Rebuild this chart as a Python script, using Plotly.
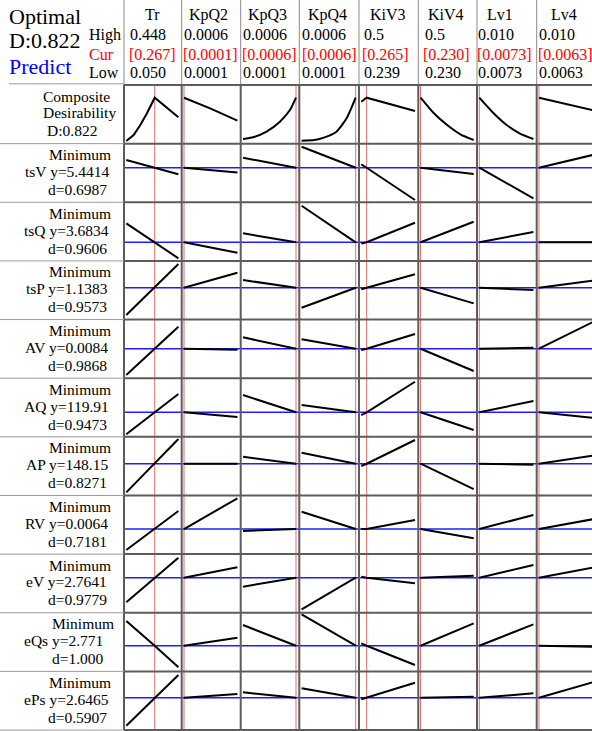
import plotly.graph_objects as go

W, H = 592, 731
FONT = "Liberation Serif"

# ---------------- data ----------------
factors = ["Tr", "KpQ2", "KpQ3", "KpQ4", "KiV3", "KiV4", "Lv1", "Lv4"]
high = [0.448, 0.0006, 0.0006, 0.0006, 0.5, 0.5, 0.010, 0.010]
cur = [0.267, 0.0001, 0.0006, 0.0006, 0.265, 0.230, 0.0073, 0.0063]
low = [0.050, 0.0001, 0.0001, 0.0001, 0.239, 0.230, 0.0073, 0.0063]
high_text = ["0.448", "0.0006", "0.0006", "0.0006", "0.5", "0.5", "0.010", "0.010"]
cur_text = ["[0.267]", "[0.0001]", "[0.0006]", "[0.0006]", "[0.265]", "[0.230]", "[0.0073]", "[0.0063]"]
low_text = ["0.050", "0.0001", "0.0001", "0.0001", "0.239", "0.230", "0.0073", "0.0063"]

composite_D = "0.822"
composite_range = [-0.05, 1.063]
composite_x = [
    [0.05, 0.106, 0.157, 0.208, 0.267, 0.448],
    [0.0001, 0.00035, 0.0006],
    [0.0001, 0.000195, 0.000322, 0.000448, 0.000543, 0.0006],
    [0.0001, 0.000219, 0.000312, 0.000422, 0.000516, 0.0006],
    [0.239, 0.265, 0.5],
    [0.23, 0.2975, 0.365, 0.4325, 0.5],
    [0.0073, 0.00794, 0.00862, 0.00931, 0.010],
    [0.0063, 0.010],
]
composite_curves = [
    [0.0, 0.114, 0.304, 0.526, 0.822, 0.45],
    [0.822, 0.615, 0.386],
    [0.038, 0.070, 0.177, 0.367, 0.588, 0.822],
    [0.006, 0.019, 0.070, 0.177, 0.431, 0.822],
    [0.746, 0.822, 0.57],
    [0.822, 0.526, 0.304, 0.127, 0.019],
    [0.822, 0.556, 0.317, 0.146, 0.038],
    [0.822, 0.588],
]

responses = ["tsV", "tsQ", "tsP", "AV", "AQ", "AP", "RV", "eV", "eQs", "ePs"]
resp_y = [5.4414, 3.6834, 1.1383, 0.0084, 119.91, 148.15, 0.0064, 2.7641, 2.771, 2.6465]
resp_y_text = ["5.4414", "3.6834", "1.1383", "0.0084", "119.91", "148.15", "0.0064", "2.7641", "2.771", "2.6465"]
resp_d_text = ["0.6987", "0.9606", "0.9573", "0.9868", "0.9473", "0.8271", "0.7181", "0.9779", "1.000", "0.5907"]
resp_range = [
    [4.750, 5.923], [3.311, 4.484], [0.820, 1.406], [0.0025, 0.01423], [107.65, 136.97],
    [132.275, 161.59], [0.003891, 0.009755], [2.063, 3.236], [2.258, 3.430], [2.0005, 3.173],
]

# predicted response at [low, current, high] of each factor
tsV = [[5.595, 5.4414, 5.309], [5.4414, 5.4414, 5.345], [5.641, 5.4414, 5.4414], [5.861, 5.4414, 5.4414],
       [5.509, 5.4414, 4.795], [5.4414, 5.4414, 5.315], [5.4414, 5.4414, 4.829], [5.4414, 5.4414, 5.695]]
tsQ = [[4.063, 3.6834, 3.363], [3.6834, 3.6834, 3.475], [3.863, 3.6834, 3.6834], [4.415, 3.6834, 3.6834],
       [3.659, 3.6834, 4.075], [3.6834, 3.6834, 4.095], [3.6834, 3.6834, 3.889], [3.6834, 3.6834, 3.6834]]
tsP = [[0.865, 1.1383, 1.375], [1.1383, 1.1383, 1.288], [1.215, 1.1383, 1.1383], [0.938, 1.1383, 1.1383],
       [1.122, 1.1383, 1.272], [1.1383, 1.1383, 0.982], [1.1383, 1.1383, 1.115], [1.1383, 1.1383, 1.208]]
AV = [[0.00314, 0.0084, 0.0128], [0.0084, 0.0084, 0.0082], [0.01068, 0.0084, 0.0084], [0.01028, 0.0084, 0.0084],
      [0.00814, 0.0084, 0.01134], [0.0084, 0.0084, 0.00394], [0.0084, 0.0084, 0.0086], [0.0084, 0.0084, 0.01368]]
AQ = [[108.91, 119.91, 129.06], [119.91, 119.91, 117.56], [128.56, 119.91, 119.91], [123.56, 119.91, 119.91],
      [118.56, 119.91, 135.21], [119.91, 119.91, 111.06], [119.91, 119.91, 125.56], [119.91, 119.91, 117.21]]
AP = [[133.85, 148.15, 160.5], [148.15, 148.15, 148.15], [151.65, 148.15, 148.15], [153.65, 148.15, 148.15],
      [147.0, 148.15, 160.0], [148.15, 148.15, 135.5], [148.15, 148.15, 147.65], [148.15, 148.15, 152.15]]
RV = [[0.0043, 0.0064, 0.0082], [0.0064, 0.0064, 0.00947], [0.0062, 0.0064, 0.0064], [0.00813, 0.0064, 0.0064],
      [0.0064, 0.0064, 0.0073], [0.0064, 0.0064, 0.00547], [0.0064, 0.0064, 0.0078], [0.0064, 0.0064, 0.00737]]
eV = [[2.272, 2.7641, 3.164], [2.7641, 2.7641, 2.972], [2.584, 2.7641, 2.7641], [2.132, 2.7641, 2.7641],
      [2.784, 2.7641, 2.652], [2.7641, 2.7641, 2.804], [2.7641, 2.7641, 3.018], [2.7641, 2.7641, 2.964]]
eQs = [[3.265, 2.771, 2.339], [2.771, 2.771, 2.931], [3.185, 2.771, 2.771], [3.399, 2.771, 2.771],
       [2.819, 2.771, 2.385], [2.771, 2.771, 3.219], [2.771, 2.771, 3.199], [2.771, 2.771, 2.751]]
ePs = [[2.0865, 2.6465, 3.1005], [2.6465, 2.6465, 2.7205], [2.7545, 2.6465, 2.6465], [2.8345, 2.6465, 2.6465],
       [2.6145, 2.6465, 2.9465], [2.6465, 2.6465, 2.6665], [2.6465, 2.6465, 2.7345], [2.6465, 2.6465, 2.9545]]
resp_curves = [tsV, tsQ, tsP, AV, AQ, AP, RV, eV, eQs, ePs]

# ---------------- layout geometry (pixels) ----------------
col_edges = [124, 181.7, 240.7, 299.3, 359, 418.3, 477, 536.7, 595.6]
GRID_TOP = 85
ROW_H = 58.64
N_ROWS = 11
PAD_L, PAD_R = 2.3, 3.3


def px(p):
    return p / W


def py(p):
    return 1 - p / H


def row_top(r):
    return GRID_TOP + r * ROW_H


fig = go.Figure()
lay = {}
shapes = []
annotations = []
spline_cols = {2, 3, 5, 6}

for r in range(N_ROWS):
    top, bot = row_top(r), row_top(r) + ROW_H
    for c in range(8):
        n = r * 8 + c + 1
        xa = "xaxis" if n == 1 else f"xaxis{n}"
        ya = "yaxis" if n == 1 else f"yaxis{n}"
        xr = "x" if n == 1 else f"x{n}"
        yr = "y" if n == 1 else f"y{n}"
        cl, cr = col_edges[c], col_edges[c + 1]
        dl, dr = cl + PAD_L, cr - PAD_R
        scale = (high[c] - low[c]) / (dr - dl)
        vis_r = min(cr, W)
        x_range = [low[c] - (dl - cl) * scale, high[c] + (vis_r - dr) * scale]
        if r == 0:
            xs, ys, y_range = composite_x[c], composite_curves[c], composite_range
            shape = "spline" if c in spline_cols else "linear"
        else:
            xs = [low[c], cur[c], high[c]]
            ys = resp_curves[r - 1][c]
            y_range = resp_range[r - 1]
            shape = "linear"
        lay[xa] = dict(domain=[px(cl), px(vis_r)], range=x_range, visible=False,
                       anchor=yr, fixedrange=True)
        lay[ya] = dict(domain=[py(bot), py(top)], range=y_range, visible=False,
                       anchor=xr, fixedrange=True)
        fig.add_trace(go.Scatter(x=xs, y=ys, mode="lines", xaxis=xr, yaxis=yr,
                                 line=dict(color="black", width=2, shape=shape, smoothing=0.6),
                                 showlegend=False, hoverinfo="skip"))

# red current-setting lines per factor column
for c in range(8):
    xr = "x" if c == 0 else f"x{c + 1}"
    shapes.append(dict(type="line", xref=xr, yref="paper", x0=cur[c], x1=cur[c],
                       y0=py(730), y1=py(GRID_TOP), layer="below",
                       line=dict(color="rgb(225,110,110)", width=1)))

# blue predicted-response lines per response row
for r in range(1, N_ROWS):
    n = r * 8 + 1
    shapes.append(dict(type="line", xref="paper", yref=f"y{n}", x0=px(col_edges[0]), x1=1,
                       y0=resp_y[r - 1], y1=resp_y[r - 1], layer="below",
                       line=dict(color="rgb(30,30,255)", width=1.5)))

GRID_COL = "#5c5c5c"
# panel grid lines
for c in range(8):
    shapes.append(dict(type="line", xref="paper", yref="paper", x0=px(col_edges[c]), x1=px(col_edges[c]),
                       y0=py(730), y1=py(GRID_TOP), line=dict(color=GRID_COL, width=2)))
    shapes.append(dict(type="line", xref="paper", yref="paper", x0=px(col_edges[c]), x1=px(col_edges[c]),
                       y0=py(GRID_TOP), y1=1, line=dict(color="#8a8a8a", width=1)))
for r in range(N_ROWS + 1):
    yy = row_top(r)
    shapes.append(dict(type="line", xref="paper", yref="paper", x0=px(col_edges[0]), x1=1,
                       y0=py(yy), y1=py(yy), line=dict(color=GRID_COL, width=2)))
    x_start = 9 if r == 0 else 0
    yline = 83.8 if r == 0 else yy
    shapes.append(dict(type="line", xref="paper", yref="paper", x0=px(x_start), x1=px(col_edges[0]),
                       y0=py(yline), y1=py(yline), line=dict(color="#9a9a9a", width=1)))


def ann(text, x, y, size, color="black", xanchor="left"):
    annotations.append(dict(text=text, x=px(x), y=py(y), xref="paper", yref="paper",
                            xanchor=xanchor, yanchor="middle", showarrow=False,
                            borderpad=0, borderwidth=0,
                            font=dict(family=FONT, size=size, color=color)))


# header block
ann("Optimal", 8.5, 16.7, 22)
ann("D:" + composite_D, 8.5, 40, 22)
ann("Predict", 8.5, 66.5, 22, color="#0000ff")
ann("High", 88.5, 34.7, 16)
ann("Cur", 88.5, 55, 16, color="#ff0000")
ann("Low", 88.5, 72.5, 16)

name_cx = [152, 209, 267, 327, 387.5, 446, 499.5, 563.5]
hl_left = [130, 184, 242.5, 301.5, 364, 424.5, 478.5, 538.5]
cur_left = [129.3, 182.5, 241.5, 301.5, 362.5, 423, 476.5, 538]
for c in range(8):
    ann(factors[c], name_cx[c], 15, 16, xanchor="center")
    ann(high_text[c], hl_left[c], 34.7, 16)
    ann(cur_text[c], cur_left[c], 55, 16, color="#ff0000")
    ann(low_text[c], hl_left[c], 72.5, 16)

# row labels
LS = 15.5
mid0 = row_top(0) + ROW_H / 2
ann("Composite", 76, mid0 - 18.3, LS, xanchor="center")
ann("Desirability", 79, mid0 - 1.5, LS, xanchor="center")
ann("D:" + composite_D, 72, mid0 + 16.5, LS, xanchor="center")
for r in range(1, N_ROWS):
    mid = row_top(r) + ROW_H / 2
    name = responses[r - 1]
    if name == "eQs":
        xm, xy, xd = 83, 63.5, 78
    else:
        xm, xy, xd = 80, 66.5, 77.5
    ann("Minimum", xm, mid - 18.3, LS, xanchor="center")
    ann(f"{name} y={resp_y_text[r - 1]}", xy, mid - 1.5, LS, xanchor="center")
    ann(f"d={resp_d_text[r - 1]}", xd, mid + 16.5, LS, xanchor="center")

fig.update_layout(width=W, height=H, margin=dict(l=0, r=0, t=0, b=0),
                  paper_bgcolor="white", plot_bgcolor="rgba(0,0,0,0)",
                  showlegend=False, shapes=shapes, annotations=annotations, **lay)

fig.write_html("out.html", config={"displayModeBar": False, "staticPlot": True},
               post_script="document.body.style.margin='0px';document.body.style.overflow='hidden';")
